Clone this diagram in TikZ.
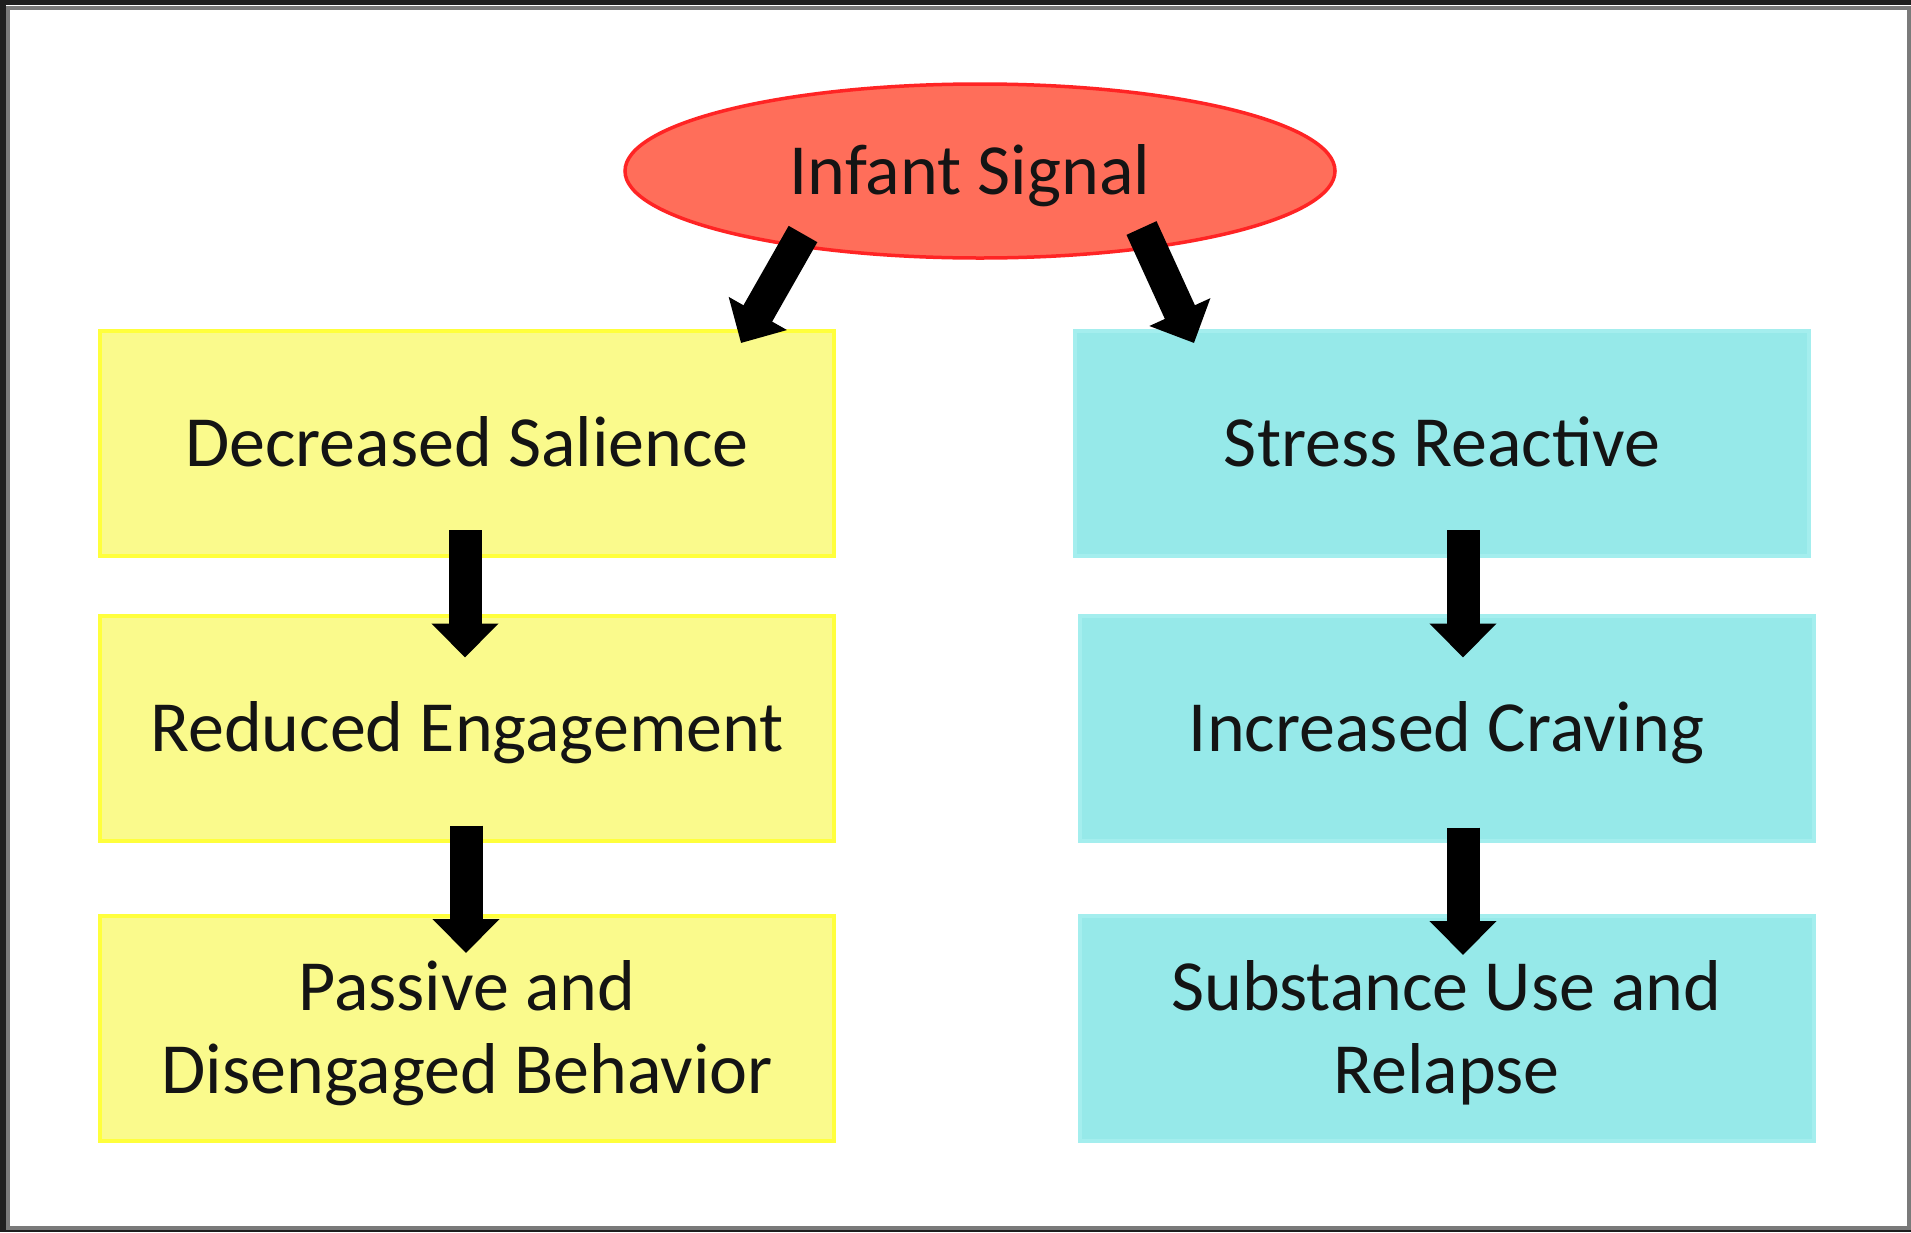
\documentclass[tikz,border=0pt]{standalone}
\usepackage{fontspec}
\setmainfont{Carlito}
\usetikzlibrary{shapes.geometric,arrows.meta,calc}
\definecolor{ellfill}{HTML}{FF6E5A}
\definecolor{elldraw}{HTML}{FF2424}
\definecolor{yfill}{HTML}{FAFA8C}
\definecolor{ydraw}{HTML}{FFFF3C}
\definecolor{cfill}{HTML}{96E9E9}
\definecolor{cdraw}{HTML}{A4EEEE}
\definecolor{frameg}{HTML}{7A7A7A}
\definecolor{txt}{HTML}{141414}
\begin{document}
\begin{tikzpicture}[x=1pt,y=-1pt,
  every node/.style={font=\fontsize{72}{83}\selectfont, text=txt},
  ell/.style={ellipse, fill=ellfill, draw=elldraw, line width=3.5pt,
    minimum width=710pt, minimum height=174pt, inner sep=0pt,
    text height=46pt, text depth=0pt},
  boxbase/.style={rectangle, line width=4pt, minimum width=734pt,
    minimum height=225pt, inner sep=0pt, align=center},
  ybox/.style={boxbase, fill=yfill, draw=ydraw},
  cbox/.style={boxbase, fill=cfill, draw=cdraw},
  oneline/.style={text height=46pt, text depth=0pt},
  twoline/.style={text height=129pt, text depth=0pt},
  barrow/.style={line width=33pt, black, -{Triangle[width=65pt,length=34pt]}}
]
\useasboundingbox (0,0) rectangle (1911,1232);
% page and frame
\fill[white] (0,0) rectangle (1911,1232);
\draw[frameg, line width=4pt] (8,7.5) rectangle (1909,1228);
\draw[black!88, line width=6pt] (3,0) -- (3,1232);
\draw[black!88, line width=5pt] (0,2.5) -- (1911,2.5);
\draw[black!88, line width=2pt] (0,1231) -- (1911,1231);

% nodes
\node[ell] (sig) at (980,171) {\kern-20pt Infant Signal};
\node[ybox, oneline] (d1) at (467,443.5) {Decreased Salience};
\node[ybox, oneline] (d2) at (467,728) {Reduced Engagement};
\node[ybox, twoline] (d3) at (467,1028.5) {Passive and\\Disengaged Behavior};
\node[cbox, oneline] (s1) at (1442,443.5) {Stress Reactive};
\node[cbox, oneline] (s2) at (1446.5,728) {Increased Craving};
\node[cbox, twoline] (s3) at (1446.5,1028.5) {Substance Use and\\Relapse};

% connectors
\draw[barrow] ($(sig.center)+(-177,63)$) -- ($(d1.north)+(274,14)$);
\draw[barrow] ($(sig.center)+(161.5,57)$) -- ($(s1.north)+(-248,14)$);
\draw[barrow] ($(d1.south)+(-2,-28)$) -- ($(d2.north)+(-2,44)$);
\draw[barrow] ($(d2.south)+(-1,-17)$) -- ($(d3.north)+(-1,39)$);
\draw[barrow] ($(s1.south)+(21,-28)$) -- ($(s2.north)+(16.5,44)$);
\draw[barrow] ($(s2.south)+(16.5,-15)$) -- ($(s3.north)+(16.5,41)$);
\end{tikzpicture}
\end{document}
